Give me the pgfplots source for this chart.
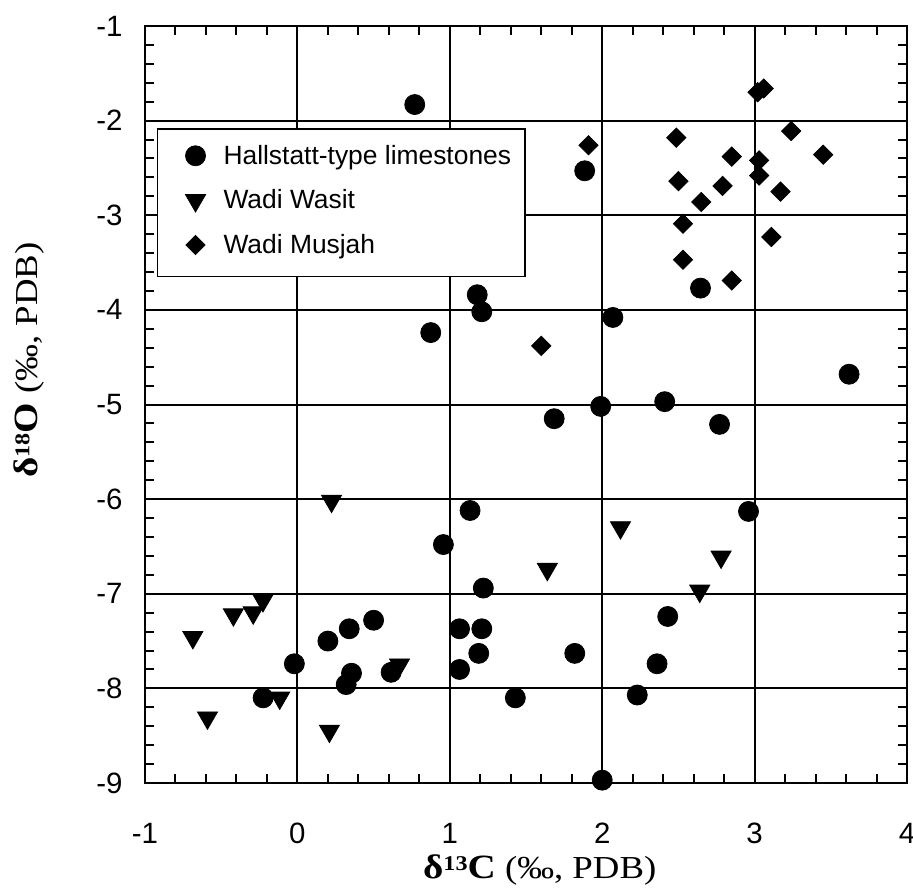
\documentclass[border=0pt]{standalone}
\usepackage{pgfplots}
\pgfplotsset{compat=1.18}
\usepackage{fontspec}
\setmainfont{Liberation Sans}
\newfontfamily\serifw[FakeStretch=1.15]{Liberation Serif}
\begin{document}
\begin{tikzpicture}
\path[use as bounding box] (-72.5pt,-55.5pt) rectangle (384pt,391.5pt);
\begin{axis}[
 scale only axis, width=381pt, height=378.5pt,
 xmin=-1, xmax=4, ymin=-9, ymax=-1,
 xtick={-1,0,1,2,3,4}, ytick={-9,-8,-7,-6,-5,-4,-3,-2,-1},
 minor tick num=4,
 tick align=inside,
 major tick length=4.5pt, minor tick length=4.5pt,
 every tick/.style={black, line width=1pt},
 grid=major, major grid style={black, line width=1pt},
 axis line style={line width=1.3pt},
 ticklabel style={font=\fontsize{14.7}{17}\selectfont, inner sep=0pt},
 /pgf/number format/assume math mode=true,
 xticklabel style={anchor=north, yshift=-20pt},
 yticklabel style={anchor=east, xshift=-11pt},
 xlabel={{\serifw\bfseries\fontsize{17}{20}\selectfont δ\raisebox{4.1pt}{\fontsize{10.5}{11}\selectfont 13}C}{\serifw\fontsize{16}{19}\selectfont\ (‰, PDB)}},
 ylabel={{\serifw\bfseries\fontsize{17}{20}\selectfont δ\raisebox{4.1pt}{\fontsize{10.5}{11}\selectfont 18}O}{\serifw\fontsize{16}{19}\selectfont\ (‰, PDB)}},
 xlabel style={at={(axis description cs:0.518,-0.126)}, anchor=base, inner sep=0pt},
 ylabel style={at={(axis description cs:-0.152,0.559)}, anchor=center, inner sep=0pt},
 legend cell align=left,
 legend image code/.code={\path[draw=none] (0pt,0pt) rectangle (20pt,0pt); \draw[#1] plot coordinates {(12pt,4.3pt)};},
 legend style={at={(axis description cs:0.0154,0.8653)}, anchor=north west,
   draw=black, line width=0.8pt, inner xsep=7pt, inner ysep=8.5pt,
   row sep=10pt, column sep=6pt, font=\fontsize{13.2}{15}\selectfont,
   nodes={inner sep=0pt, text height=9.3pt, text depth=3pt, anchor=base west}},
]
\addplot[only marks, mark=*, mark size=5pt, mark options={fill=black, draw=black, line width=0.4pt}]
coordinates {
(0.77,-1.83) (1.18,-3.84) (1.21,-4.02) (0.875,-4.24) (1.885,-2.53) (2.645,-3.77)
(2.07,-4.08) (3.62,-4.68) (1.99,-5.02) (2.41,-4.97) (1.685,-5.15) (2.77,-5.21)
(2.96,-6.13) (2.43,-7.24) (1.82,-7.63) (2.36,-7.74) (1.43,-8.10) (2.23,-8.07)
(2.00,-8.97) (1.133,-6.12) (0.958,-6.48) (1.22,-6.94) (0.50,-7.28) (0.34,-7.37)
(0.20,-7.50) (-0.02,-7.74) (1.064,-7.37) (1.21,-7.37) (1.19,-7.63) (1.064,-7.80)
(0.355,-7.84) (0.32,-7.96) (0.615,-7.83) (-0.225,-8.10)
};
\addlegendentry{Hallstatt-type limestones}
\addplot[only marks, mark=triangle*, mark size=5.8pt, mark options={rotate=180, fill=black, draw=black, line width=0.4pt}]
coordinates {
(2.12,-6.30) (2.78,-6.61) (1.64,-6.74) (2.64,-6.97) (0.224,-6.02) (-0.226,-7.07)
(-0.29,-7.20) (-0.42,-7.22) (-0.686,-7.46) (0.67,-7.75) (-0.116,-8.10) (-0.59,-8.31)
(0.21,-8.45)
};
\addlegendentry{Wadi Wasit}
\addplot[only marks, mark=square*, mark size=3.4pt, mark options={rotate=45, fill=black, draw=black, line width=0.4pt}]
coordinates {
(3.02,-1.70) (3.06,-1.66) (3.24,-2.11) (1.91,-2.26) (2.486,-2.18) (2.85,-2.38)
(3.03,-2.42) (3.45,-2.36) (2.50,-2.64) (3.03,-2.58) (2.79,-2.69) (3.17,-2.75)
(2.65,-2.86) (2.53,-3.09) (3.11,-3.23) (2.53,-3.47) (2.85,-3.69) (1.60,-4.38)
};
\addlegendentry{Wadi Musjah}
\end{axis}
\end{tikzpicture}
\end{document}
